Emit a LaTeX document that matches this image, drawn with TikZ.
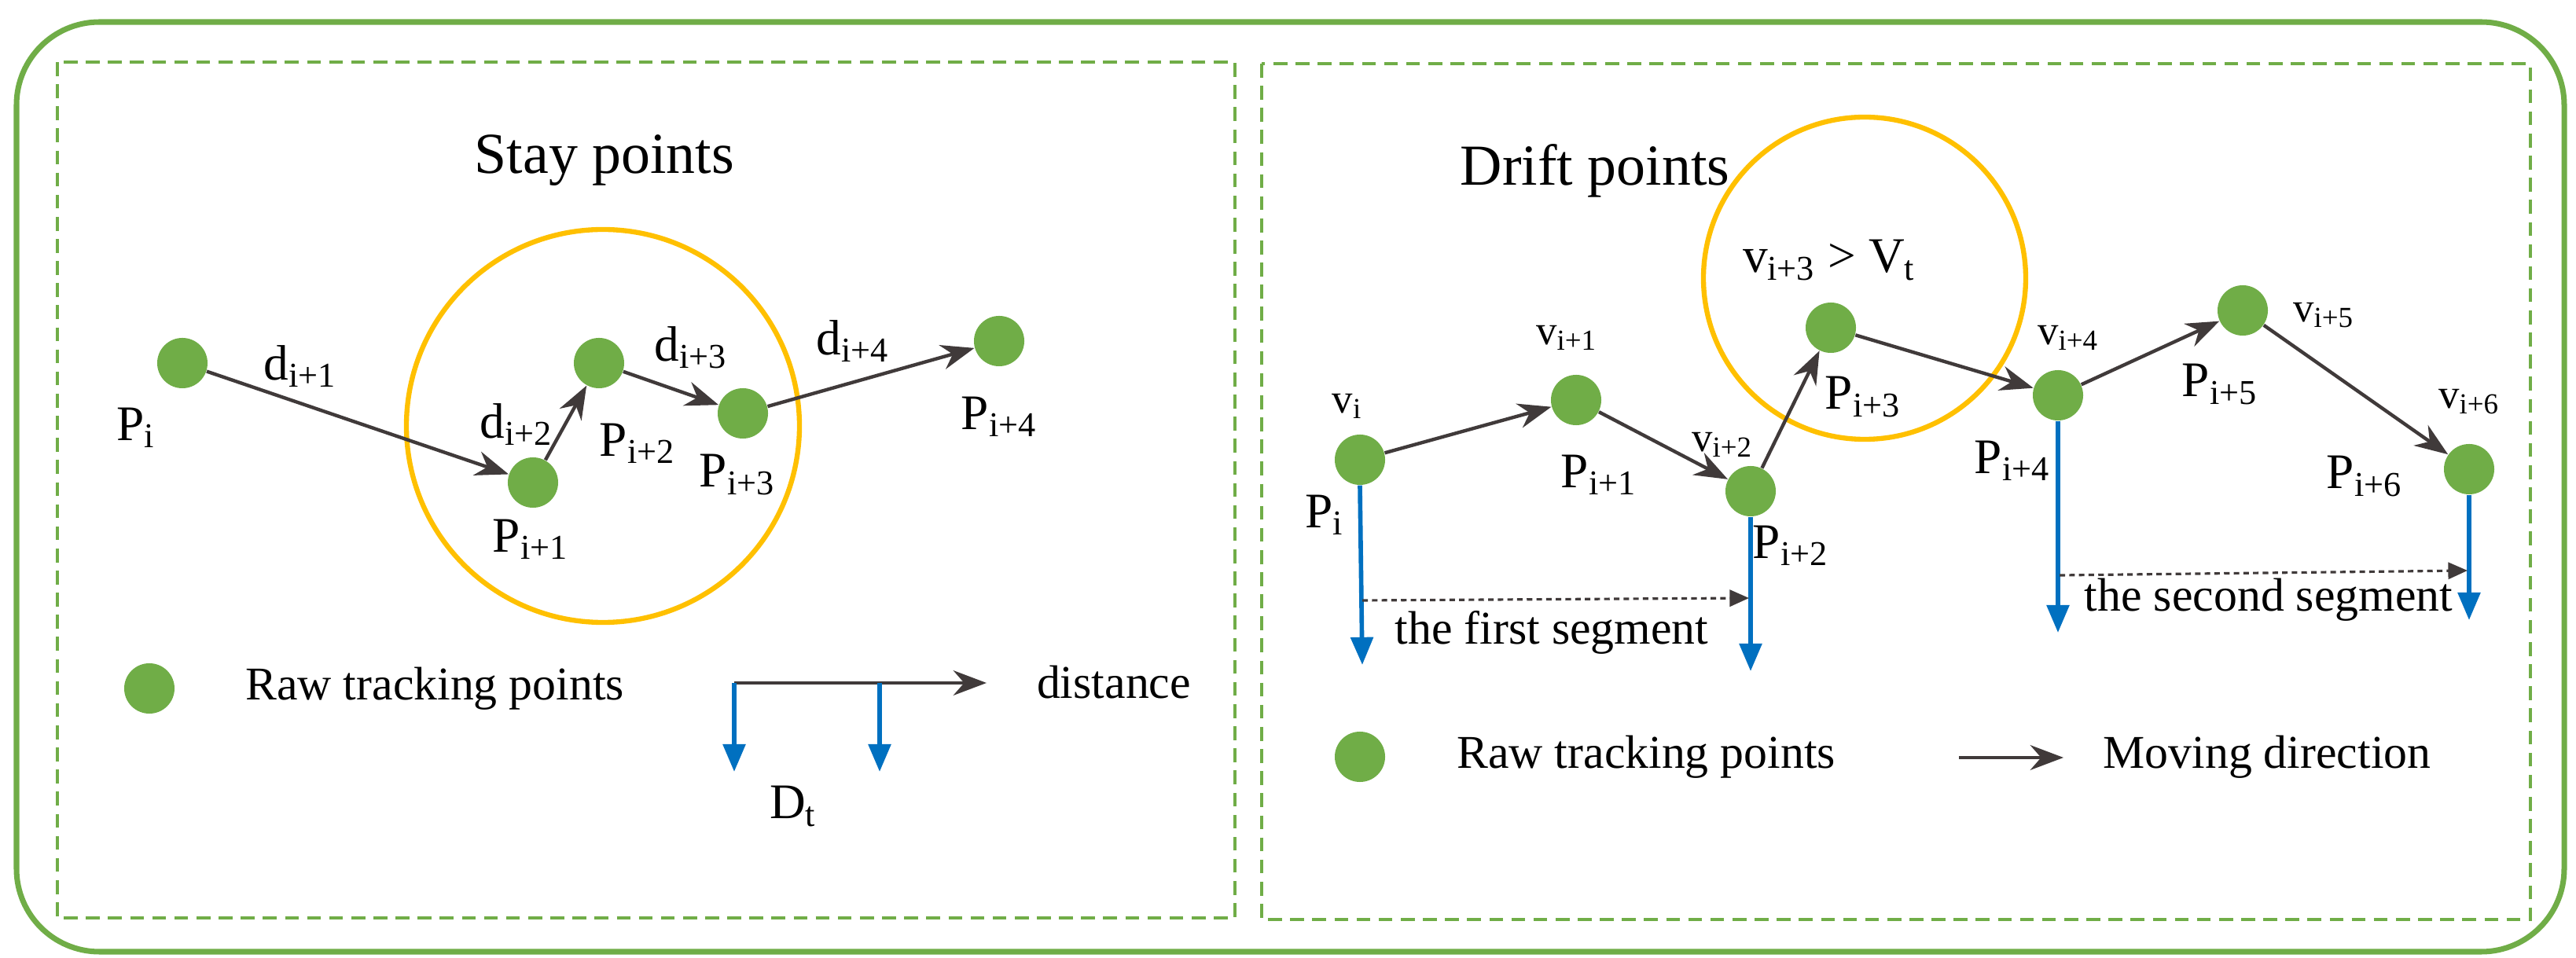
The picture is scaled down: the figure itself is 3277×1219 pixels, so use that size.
\documentclass[tikz,border=0pt]{standalone}
\usepackage{fontspec}
\setmainfont{Liberation Serif}
\usetikzlibrary{arrows.meta}
\definecolor{gr}{RGB}{112,173,71}
\definecolor{og}{RGB}{255,192,0}
\definecolor{bl}{RGB}{0,112,192}
\definecolor{dk}{RGB}{64,58,58}
\newcommand{\mysb}[1]{\textsubscript{#1}}
\begin{document}
\begin{tikzpicture}[x=0.01cm,y=-0.01cm,
  pt/.style={circle,fill=gr,minimum size=0.64cm,inner sep=0},
  lab/.style={font=\fontsize{18}{21}\selectfont},
  vlab/.style={font=\fontsize{15}{18}\selectfont},
  txt/.style={font=\fontsize{17}{20}\selectfont},
  mv/.style={draw=dk,line width=1.25pt,-{Stealth[length=12pt,width=9pt]}},
  bd/.style={draw=bl,line width=1.6pt,-{Triangle[length=10pt,width=8pt]}},
  dot/.style={draw=dk,dashed,dash pattern=on 2pt off 1.5pt,line width=0.9pt,-{Triangle[length=7pt,width=6pt]}},
  box/.style={draw=gr,dashed,dash pattern=on 5pt off 3pt,line width=1pt}]
\useasboundingbox (0,0) rectangle (3277,1219);
\draw[gr,line width=2pt,rounded corners=30pt] (21,28) rectangle (3262,1211);
\draw[box] (73,79) rectangle (1571,1168);
\draw[box] (1605,81) rectangle (3219,1170);
% left panel
\node[font=\fontsize{21}{24}\selectfont] (t1) at (769,204) {Stay points};
\draw[og,line width=1.8pt] (767,542) circle (250);
\node[pt] (a0) at (232,462) {};
\node[pt] (a1) at (678,614) {};
\node[pt] (a2) at (762,462) {};
\node[pt] (a3) at (945,526) {};
\node[pt] (a4) at (1271,434) {};
\draw[mv] (a0) -- (a1);
\draw[mv] (a1) -- (a2);
\draw[mv] (a2) -- (a3);
\draw[mv] (a3) -- (a4);
\node[lab] (la0) at (173,544) {P\mysb{i}};
\node[lab] (la1) at (675,686) {P\mysb{i+1}};
\node[lab] (la2) at (811,564) {P\mysb{i+2}};
\node[lab] (la3) at (938,604) {P\mysb{i+3}};
\node[lab] (la4) at (1271,530) {P\mysb{i+4}};
\node[lab] (d1) at (382,466) {d\mysb{i+1}};
\node[lab] (d2) at (657,540) {d\mysb{i+2}};
\node[lab] (d3) at (879,442) {d\mysb{i+3}};
\node[lab] (d4) at (1085,434) {d\mysb{i+4}};
\node[pt] (lg1) at (190,876) {};
\node[txt,anchor=west] (lt1) at (300,876) {Raw tracking points};
\coordinate (ax0) at (934,869);
\coordinate (ax1) at (1255,869);
\coordinate (ax2) at (1119,869);
\coordinate (b0) at (934,982);
\coordinate (b1) at (1119,982);
\draw[mv] (ax0) -- (ax1);
\draw[bd] (ax0) -- (b0);
\draw[bd] (ax2) -- (b1);
\node[txt] (dist) at (1417,868) {distance};
\node[lab] (dt) at (1009,1026) {D\mysb{t}};
% right panel
\node[font=\fontsize{21}{24}\selectfont] (t2) at (2029,217) {Drift points};
\draw[og,line width=1.8pt] (2372,354) circle (205);
\node[pt] (p0) at (1730,585) {};
\node[pt] (p1) at (2005,509) {};
\node[pt] (p2) at (2227,625) {};
\node[pt] (p3) at (2329,417) {};
\node[pt] (p4) at (2618,503) {};
\node[pt] (p5) at (2853,395) {};
\node[pt] (p6) at (3141,597) {};
\draw[mv] (p0) -- (p1);
\draw[mv] (p1) -- (p2);
\draw[mv] (p2) -- (p3);
\draw[mv] (p3) -- (p4);
\draw[mv] (p4) -- (p5);
\draw[mv] (p5) -- (p6);
\node[lab] (vt) at (2327,331) {v\mysb{i+3} > V\mysb{t}};
\node[vlab] (v0) at (1714,517) {v\mysb{i}};
\node[vlab] (v1) at (1993,430) {v\mysb{i+1}};
\node[vlab] (v2) at (2191,566) {v\mysb{i+2}};
\node[vlab] (v4) at (2631,430) {v\mysb{i+4}};
\node[vlab] (v5) at (2956,401) {v\mysb{i+5}};
\node[vlab] (v6) at (3141,511) {v\mysb{i+6}};
\node[lab] (q0) at (1685,655) {P\mysb{i}};
\node[lab] (q1) at (2034,604) {P\mysb{i+1}};
\node[lab] (q2) at (2278,694) {P\mysb{i+2}};
\node[lab] (q3) at (2370,505) {P\mysb{i+3}};
\node[lab] (q4) at (2560,586) {P\mysb{i+4}};
\node[lab] (q5) at (2824,489) {P\mysb{i+5}};
\node[lab] (q6) at (3008,606) {P\mysb{i+6}};
\coordinate (e0) at (1733,846);
\coordinate (e2) at (2227,854);
\coordinate (e4) at (2618,805);
\coordinate (e6) at (3141,789);
\draw[bd] (p0.south) -- (e0);
\draw[bd] (p2.south) -- (e2);
\draw[bd] (p4.south) -- (e4);
\draw[bd] (p6.south) -- (e6);
\coordinate (s0) at (1733,764);
\coordinate (s1) at (2225,761);
\coordinate (s2) at (2620,732);
\coordinate (s3) at (3139,726);
\draw[dot] (s0) -- (s1);
\draw[dot] (s2) -- (s3);
\node[txt] (seg1) at (1974,805) {the first segment};
\node[txt] (seg2) at (2886,763) {the second segment};
\node[pt] (lg2) at (1730,963) {};
\node[txt,anchor=west] (lt2) at (1841,963) {Raw tracking points};
\coordinate (m0) at (2492,964);
\coordinate (m1) at (2625,964);
\draw[mv] (m0) -- (m1);
\node[txt] (mvd) at (2884,963) {Moving direction};
\end{tikzpicture}
\end{document}
